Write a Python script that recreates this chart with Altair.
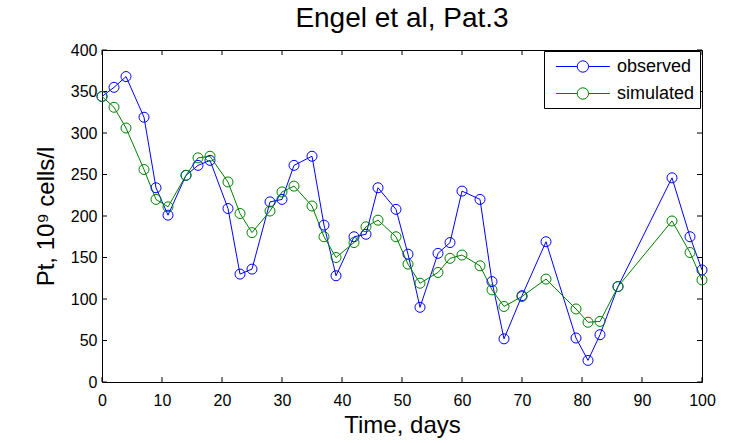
import altair as alt
import pandas as pd

# ---- data ----
days = [0, 2, 4, 7, 9, 11, 14, 16, 18, 21, 23, 25, 28, 30, 32, 35, 37, 39, 42, 44,
        46, 49, 51, 53, 56, 58, 60, 63, 65, 67, 70, 74, 79, 81, 83, 86, 95, 98, 100]
observed = [344, 355, 368, 319, 234, 201, 249, 261, 267, 209, 130, 136, 217, 220, 261,
            272, 189, 128, 175, 178, 234, 208, 154, 90, 155, 168, 230, 220, 121, 52,
            104, 169, 53, 26, 57, 115, 246, 175, 135]
simulated = [344, 331, 306, 256, 220, 211, 249, 270, 272, 241, 203, 180, 206, 229, 236,
             212, 175, 150, 168, 187, 195, 175, 142, 119, 132, 149, 153, 140, 111, 91,
             103, 124, 88, 72, 73, 115, 194, 156, 123]
series_names = ["observed", "simulated"]
series_colors = ["#0000ff", "#008000"]
x_ticks = list(range(0, 101, 10))
y_ticks = list(range(0, 401, 50))

df = pd.DataFrame({
    "day": days * 2,
    "value": observed + simulated,
    "series": [series_names[0]] * len(days) + [series_names[1]] * len(days),
})
xt = pd.DataFrame({"day": x_ticks})
yt = pd.DataFrame({"value": y_ticks})

W, H = 600, 332
FONT = "Liberation Sans"
TL = 5  # inward tick length

legend_path = ("M-0.36,0H1.77M2.91,0H5.04"
               "M1.77,0A0.57,0.57,0,1,0,2.91,0A0.57,0.57,0,1,0,1.77,0Z")

xenc = alt.X("day:Q", scale=alt.Scale(domain=[0, 100], nice=False, zero=False),
             axis=alt.Axis(values=x_ticks, title="Time, days", ticks=False, tickSize=0,
                           domain=False, grid=False, labelPadding=10, labelFlush=False,
                           labelFont=FONT, labelFontSize=16, labelColor="black",
                           titleFont=FONT, titleFontSize=24, titleFontWeight="normal",
                           titleColor="black",
                           titleX=W / 2, titleY=50, titleBaseline="alphabetic"))
yenc = alt.Y("value:Q", scale=alt.Scale(domain=[0, 400], nice=False),
             axis=alt.Axis(values=y_ticks, title="Pt, 10⁹ cells/l", ticks=False,
                           tickSize=0, domain=False, grid=False, labelPadding=5,
                           labelFlush=False,
                           labelFont=FONT, labelFontSize=16, labelColor="black",
                           titleFont=FONT, titleFontSize=24, titleFontWeight="normal",
                           titleColor="black",
                           titleX=-49, titleY=H / 2, titleBaseline="alphabetic"))
color = alt.Color("series:N",
                  scale=alt.Scale(domain=series_names, range=series_colors),
                  legend=alt.Legend(title=None, orient="none", legendX=442, legendY=1,
                                    fillColor="white", strokeColor="black", padding=5,
                                    labelFont=FONT, labelFontSize=18, labelColor="black",
                                    symbolType=legend_path, symbolSize=400,
                                    symbolStrokeWidth=1, symbolFillColor="white",
                                    labelOffset=47, rowPadding=7, cornerRadius=0))

lines = alt.Chart(df).mark_line(strokeWidth=1).encode(x=xenc, y=yenc, color=color)
points = alt.Chart(df).mark_point(filled=False, size=100, strokeWidth=1, opacity=1).encode(
    x="day:Q", y="value:Q", color=alt.Color("series:N"))

tb = alt.Chart(xt).mark_rule(color="black", strokeWidth=1).encode(
    x="day:Q", y=alt.value(H), y2=alt.value(H - TL))
tt = alt.Chart(xt).mark_rule(color="black", strokeWidth=1).encode(
    x="day:Q", y=alt.value(0), y2=alt.value(TL))
tl = alt.Chart(yt).mark_rule(color="black", strokeWidth=1).encode(
    y="value:Q", x=alt.value(0), x2=alt.value(TL))
tr = alt.Chart(yt).mark_rule(color="black", strokeWidth=1).encode(
    y="value:Q", x=alt.value(W), x2=alt.value(W - TL))

chart = alt.layer(tb, tt, tl, tr, lines, points).properties(
    width=W, height=H,
    background="white",
    title=alt.TitleParams("Engel et al, Pat.3", font=FONT, fontSize=28,
                          fontWeight="normal", color="black", anchor="middle",
                          offset=9, frame="group"),
    autosize=alt.AutoSizeParams(type="none"),
    padding={"left": 102, "top": 50, "right": 39, "bottom": 61},
).configure_view(stroke="black", strokeWidth=1)

chart.save("out.html", embed_options={"renderer": "svg", "actions": False})
